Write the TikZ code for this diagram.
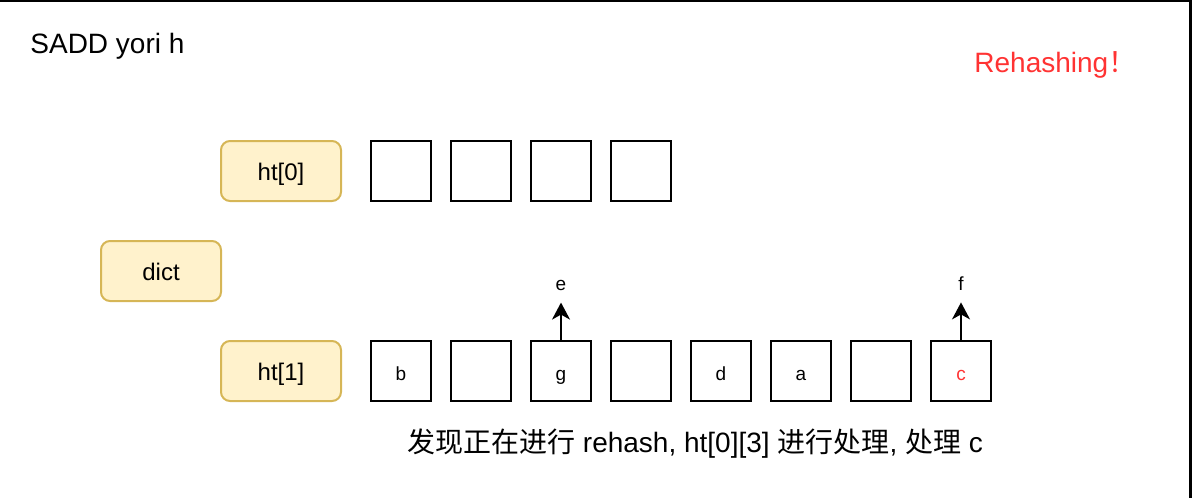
\documentclass[tikz,border=0pt]{standalone}
\usepackage{fontspec}
\setmainfont{Liberation Sans}
\newfontfamily\cjk{Noto Sans CJK SC}
\usetikzlibrary{arrows.meta}
\definecolor{hfill}{HTML}{FFF2CC}
\definecolor{hdraw}{HTML}{D6B656}
\definecolor{hred}{HTML}{FF3333}
\tikzset{
  cell/.style={draw,line width=1pt,minimum size=30pt,inner sep=0pt,text height=9pt,text depth=0pt,font=\fontsize{9.5}{12}\selectfont},
  hbox/.style={draw=hdraw,fill=hfill,line width=1pt,rounded corners=4.5pt,minimum width=60pt,minimum height=30pt,inner sep=0pt,text height=9pt,text depth=0pt,font=\fontsize{12}{14}\selectfont},
  tip/.style={inner sep=0pt,anchor=base,font=\fontsize{9.5}{12}\selectfont},
  arr/.style={-{Stealth[length=8.5pt,width=9pt,inset=2.5pt]},line width=1pt,shorten >=6pt}
}
\begin{document}
\begin{tikzpicture}[x=0.5pt,y=-0.5pt]
  \useasboundingbox (0,0) rectangle (1192,498);
  \draw[line width=1pt] (0,1) -- (1190.5,1);
  \draw[line width=1.5pt] (1190.5,0) -- (1190.5,498);

  \node[anchor=base west,inner sep=0pt,font=\fontsize{14}{17}\selectfont] (title) at (30,53) {SADD yori h};
  \node[anchor=base west,inner sep=0pt,text=hred,font=\fontsize{14}{17}\selectfont] (rehashing) at (974,72) {Rehashing{\cjk ！}};

  \node[hbox] (ht0) at (281,171) {ht[0]};
  \node[hbox] (dict) at (161,271) {dict};
  \node[hbox] (ht1) at (281,371) {ht[1]};

  \node[cell] (a0) at (401,171) {};
  \node[cell] (a1) at (481,171) {};
  \node[cell] (a2) at (561,171) {};
  \node[cell] (a3) at (641,171) {};

  \node[cell] (b) at (401,371) {b};
  \node[cell] (b1) at (481,371) {};
  \node[cell] (g) at (561,371) {g};
  \node[cell] (b3) at (641,371) {};
  \node[cell] (d) at (721,371) {d};
  \node[cell] (a) at (801,371) {a};
  \node[cell] (b6) at (881,371) {};
  \node[cell,text=hred] (c) at (961,371) {c};

  \node[tip] (e) at (561,290) {e};
  \node[tip] (f) at (961,290) {f};
  \draw[arr] (g) -- (e);
  \draw[arr] (c) -- (f);

  \node[anchor=base,inner sep=0pt,font=\fontsize{14}{17}\selectfont] (note) at (695,452) {{\cjk 发现正在进行} rehash, ht[0][3] {\cjk 进行处理}, {\cjk 处理} c};
\end{tikzpicture}
\end{document}
